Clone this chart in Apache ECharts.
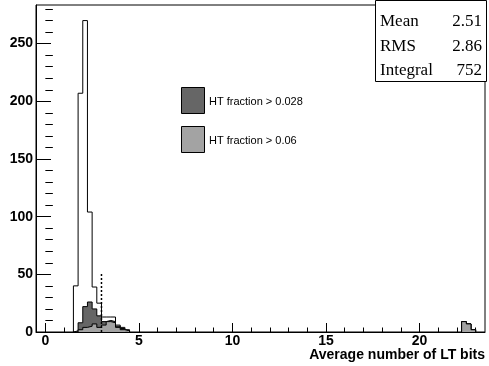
<!DOCTYPE html>
<html>
<head>
<meta charset="utf-8">
<script src="https://cdn.jsdelivr.net/npm/echarts@6/dist/echarts.min.js"></script>
<style>
  html, body { margin: 0; padding: 0; background: #fff; }
  #main { width: 489px; height: 366px; }
</style>
</head>
<body>
<div id="main"></div>
<script>
// Bins (low edge) de 0.25 de ancho
const binWidth = 0.25;
const binLowEdges = [1.5, 1.75, 2.0, 2.25, 2.5, 2.75, 3.0, 3.25, 3.5, 3.75, 4.0, 4.25, 22.25, 22.5, 22.75];
// Histogramas
const allTracks = [40, 207, 270, 104, 39, 25, 13, 13, 13, 6, 4, 2, 9, 7, 2];
const htAbove028 = [1, 8, 22, 26, 20, 14, 9, 10, 9, 5, 3, 1, 9, 7, 2];
const htAbove06 = [0, 2, 4, 5, 7, 4, 6, 9, 8, 4, 2, 1, 9, 7, 2];
// Línea de corte (punteada)
const cutX = [3.0, 3.0];
const cutY = [0, 51];

const xMajorTicks = [0, 5, 10, 15, 20];
const xMinorTicks = [1, 2, 3, 4, 6, 7, 8, 9, 11, 12, 13, 14, 16, 17, 18, 19, 21, 22, 23];
const yMajorTicks = [0, 50, 100, 150, 200, 250];
const yMinorTicks = [10, 20, 30, 40, 60, 70, 80, 90, 110, 120, 130, 140, 160, 170, 180, 190, 210, 220, 230, 240, 260, 270, 280];

const legendNames = ["HT fraction > 0.028", "HT fraction > 0.06"];
const statNames = ["Mean", "RMS", "Integral"];
const statValues = ["2.51", "2.86", "752"];
const xTitle = "Average number of LT bits";

const darkGray = "#666666";
const lightGray = "#a3a3a3";

// Construye el contorno escalonado del histograma (con corte entre grupos)
const stepPoints = (values) => {
  const pts = [];
  let prevHi = null;
  binLowEdges.forEach((lo, i) => {
    const hi = lo + binWidth;
    if (prevHi === null) {
      pts.push([lo, 0]);
    } else if (Math.abs(lo - prevHi) > 1e-9) {
      pts.push([prevHi, 0]);
      pts.push(["-", "-"]); // hueco
      pts.push([lo, 0]);
    }
    pts.push([lo, values[i]]);
    pts.push([hi, values[i]]);
    prevHi = hi;
  });
  pts.push([prevHi, 0]);
  return pts;
};

const histSeries = (name, values, fill, z) => ({
  name: name,
  type: "line",
  xAxisIndex: 0,
  yAxisIndex: 0,
  data: stepPoints(values),
  symbol: "none",
  connectNulls: false,
  z: z,
  lineStyle: { color: "#000", width: 1 },
  areaStyle: { color: fill, opacity: 1 },
  itemStyle: { color: fill },
});

const chart = echarts.init(document.getElementById("main"));

const font = "Liberation Sans, Arial, sans-serif";
const serif = "Liberation Serif, Times New Roman, serif";

const option = {
  animation: false,
  backgroundColor: "#fff",
  grid: {
    left: 36,
    top: 5,
    right: 4,
    bottom: 34,
    show: true,
    borderColor: "#000",
    borderWidth: 1,
  },
  xAxis: [
    {
      type: "value",
      min: -0.5,
      max: 23.5,
      axisLine: { show: true, onZero: false, lineStyle: { color: "#000", width: 1 } },
      axisTick: { show: true, inside: true, length: 9, customValues: xMajorTicks, lineStyle: { color: "#000" } },
      axisLabel: {
        customValues: xMajorTicks,
        color: "#000",
        fontFamily: font,
        fontWeight: "bold",
        fontSize: 14,
        margin: 2,
      },
      splitLine: { show: false },
    },
    {
      type: "value",
      min: -0.5,
      max: 23.5,
      position: "bottom",
      axisLine: { show: false },
      axisTick: { show: true, inside: true, length: 4.5, customValues: xMinorTicks, lineStyle: { color: "#000" } },
      axisLabel: { show: false },
      splitLine: { show: false },
    },
  ],
  yAxis: [
    {
      type: "value",
      min: 0,
      max: 283.5,
      axisLine: { show: true, onZero: false, lineStyle: { color: "#000", width: 1 } },
      axisTick: { show: true, inside: true, length: 15, customValues: yMajorTicks, lineStyle: { color: "#000" } },
      axisLabel: {
        customValues: yMajorTicks,
        color: "#000",
        fontFamily: font,
        fontWeight: "bold",
        fontSize: 14,
        margin: 3,
      },
      splitLine: { show: false },
    },
    {
      type: "value",
      min: 0,
      max: 283.5,
      position: "left",
      axisLine: { show: false },
      axisTick: { show: true, inside: true, length: 7.5, customValues: yMinorTicks, lineStyle: { color: "#000" } },
      axisLabel: { show: false },
      splitLine: { show: false },
    },
  ],
  series: [
    histSeries("all", allTracks, "#ffffff", 2),
    histSeries(legendNames[0], htAbove028, darkGray, 3),
    histSeries(legendNames[1], htAbove06, lightGray, 4),
    {
      name: "cut",
      type: "line",
      data: cutX.map((x, i) => [x, cutY[i]]),
      symbol: "none",
      z: 5,
      lineStyle: { color: "#000", width: 1.5, type: [2, 2] },
    },
  ],
  graphic: [
    // Leyenda
    { type: "rect", left: 181, top: 87, shape: { width: 23, height: 26 }, style: { fill: darkGray, stroke: "#000", lineWidth: 1 } },
    { type: "text", left: 209, top: 96, style: { text: legendNames[0], fill: "#000", font: "11px " + font } },
    { type: "rect", left: 181, top: 126, shape: { width: 23, height: 26 }, style: { fill: lightGray, stroke: "#000", lineWidth: 1 } },
    { type: "text", left: 209, top: 135, style: { text: legendNames[1], fill: "#000", font: "11px " + font } },
    // Caja de estadísticas
    { type: "rect", z: 10, shape: { x: 375.5, y: 0.5, width: 111, height: 81 }, style: { fill: "#fff", stroke: "#000", lineWidth: 1 } },
    ...statNames.map((s, i) => ({
      type: "text",
      z: 11,
      x: 380,
      y: 22 + i * 24.3,
      style: { text: s, fill: "#000", font: "17px " + serif, textVerticalAlign: "middle" },
    })),
    ...statValues.map((s, i) => ({
      type: "text",
      z: 11,
      x: 482,
      y: 22 + i * 24.3,
      style: { text: s, fill: "#000", font: "17px " + serif, textAlign: "right", textVerticalAlign: "middle" },
    })),
    // Título del eje X
    {
      type: "text",
      x: 485,
      y: 355,
      style: { text: xTitle, fill: "#000", font: "bold 14px " + font, textAlign: "right", textVerticalAlign: "middle" },
    },
  ],
};

chart.setOption(option);
</script>
</body>
</html>
